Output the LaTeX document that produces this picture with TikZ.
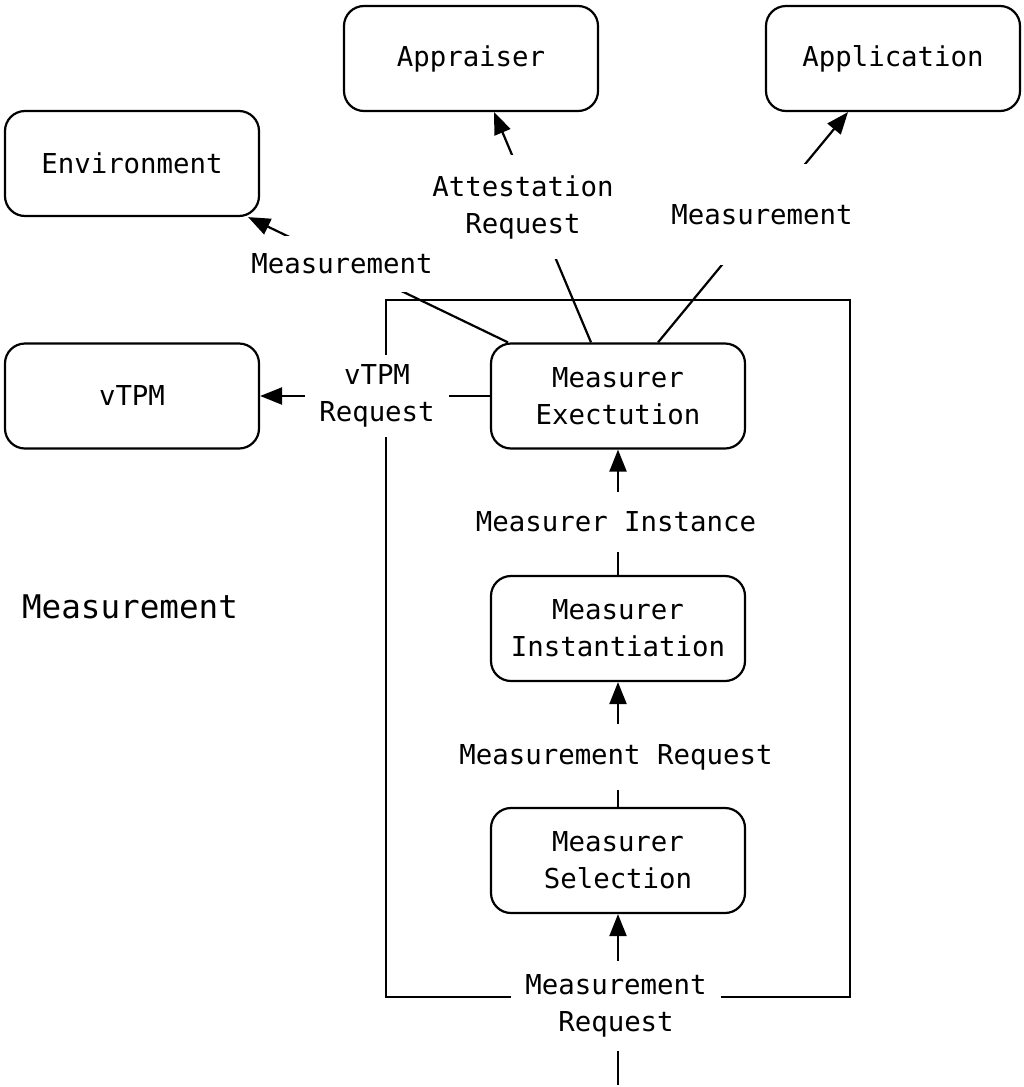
\documentclass[tikz,border=0pt]{standalone}
\usepackage{fontspec}
\setmainfont{DejaVu Sans Mono}
\usetikzlibrary{arrows.meta}
\begin{document}
\begin{tikzpicture}[x=0.5pt,y=-0.5pt,
  box/.style={draw,line width=1.1pt,rounded corners=10pt,minimum width=127pt,minimum height=52.5pt,align=center,inner sep=0pt,font=\fontsize{13.7}{18.5}\selectfont},
  lbl/.style={fill=white,align=center,inner xsep=7pt,inner ysep=10pt,font=\fontsize{13.7}{18.5}\selectfont},
  arr/.style={line width=1.1pt,-{Triangle[length=11pt,width=8.5pt]}}]
\useasboundingbox (0,0) rectangle (1023,1087);
% nodes
\node[box] (appr) at (471,58.5) {Appraiser};
\node[box] (appl) at (893,58.5) {Application};
\node[box] (env) at (132,163.5) {Environment};
\node[box] (vtpm) at (132,396) {vTPM};
\node[box] (exec) at (618,396) {Measurer\\Exectution};
\node[box] (inst) at (618,628.5) {Measurer\\Instantiation};
\node[box] (sel) at (618,860.5) {Measurer\\Selection};
\coordinate (src) at (618,1085);
% enclosing frame
\draw[line width=1.1pt] (386,300) rectangle (850,997);
% connectors
\draw[arr] (src) -- (sel);
\draw[arr] (sel) -- (inst);
\draw[arr] (inst) -- (exec);
\draw[arr] (exec.west) -- (vtpm.east);
\draw[arr] ([xshift=-55pt]exec.north) -- ([xshift=-6pt]env.south east);
\draw[arr] ([xshift=-13.5pt]exec.north) -- ([xshift=11.5pt]appr.south);
\draw[arr] ([xshift=20pt]exec.north) -- ([xshift=-22.5pt]appl.south);
% labels
\node[lbl,inner ysep=7pt] (l1) at (616,1006) {Measurement\\Request};
\node[lbl] (l2) at (616,757) {Measurement Request};
\node[lbl] (l3) at (616,522) {Measurer Instance};
\node[lbl,inner ysep=5pt] (l4) at (377,396) {vTPM\\Request};
\node[lbl] (l6) at (523,207) {Attestation\\Request};
\node[lbl,inner ysep=9pt] (l5) at (342,264) {Measurement};
\node[lbl,inner ysep=20pt] (l7) at (762,214.5) {Measurement};
\node[font=\fontsize{16.3}{20}\selectfont] (title) at (130,607) {Measurement};
\end{tikzpicture}
\end{document}
